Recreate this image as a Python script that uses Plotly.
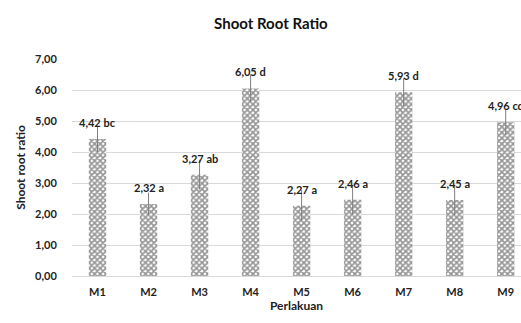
import plotly.graph_objects as go

categories = ["M1", "M2", "M3", "M4", "M5", "M6", "M7", "M8", "M9"]
values = [4.42, 2.32, 3.27, 6.05, 2.27, 2.46, 5.93, 2.45, 4.96]
errors = [0.42, 0.37, 0.48, 0.45, 0.50, 0.48, 0.45, 0.50, 0.40]
letters = ["bc", "a", "ab", "d", "a", "a", "d", "a", "cd"]
labels = [f"{v:.2f}".replace(".", ",") + " " + l for v, l in zip(values, letters)]
yticks = [0, 1, 2, 3, 4, 5, 6, 7]

FONT = "Lato"

fig = go.Figure()
fig.add_trace(go.Bar(
    x=categories, y=values,
    width=0.34,
    marker=dict(
        color="white",
        line=dict(width=0),
        pattern=dict(shape="x", fgcolor="#2a2a2a", bgcolor="#ffffff", size=4, solidity=0.65),
    ),
    error_y=dict(type="data", array=errors, visible=True, color="#7f7f7f", thickness=1, width=0),
))

for c, v, t in zip(categories, values, labels):
    fig.add_annotation(
        x=c, y=v, text=f"<b>{t}</b>", showarrow=False,
        yanchor="bottom", xanchor="center", yshift=8,
        font=dict(family=FONT, size=11, color="#222222"),
    )

fig.update_layout(
    width=521, height=323,
    margin=dict(l=72, r=0, t=59, b=47),
    paper_bgcolor="white", plot_bgcolor="white",
    separators=",.",
    showlegend=False,
    title=dict(text="<b>Shoot Root Ratio</b>", x=0.52, xanchor="center", y=0.925, yanchor="middle",
               font=dict(family=FONT, size=15, color="#111111")),
    font=dict(family=FONT, color="#222222"),
)
fig.update_xaxes(
    range=[-0.5, 8.3], showgrid=False, showline=True, linecolor="#d9d9d9", linewidth=1,
    automargin=False,
    tickfont=dict(family=FONT, size=11, weight="bold", color="#222222"),
    ticks="outside", ticklen=6, tickcolor="rgba(0,0,0,0)",
    title=dict(text="<b>Perlakuan</b>", font=dict(family=FONT, size=12, color="#222222"), standoff=3),
)
fig.update_yaxes(
    range=[0, 7], tickvals=yticks, tickformat=".2f",
    showgrid=True, gridcolor="#d9d9d9", gridwidth=1, zeroline=False,
    automargin=False,
    tickfont=dict(family=FONT, size=11, weight="bold", color="#222222"),
    ticks="outside", ticklen=12, tickcolor="rgba(0,0,0,0)",
    title=dict(text="<b>Shoot root ratio</b>", font=dict(family=FONT, size=12, color="#222222"), standoff=6),
)

fig.write_html("out.html", config={"displayModeBar": False},
               post_script="document.body.style.margin='0';document.body.style.overflow='hidden';")
